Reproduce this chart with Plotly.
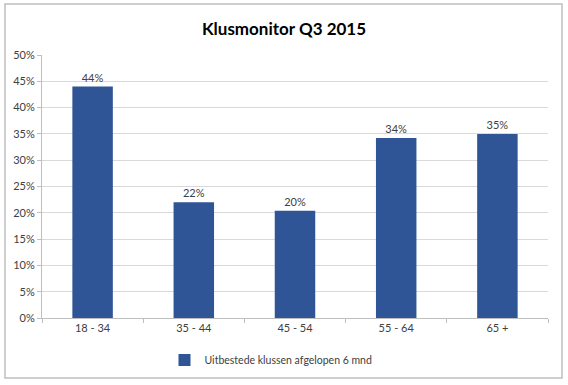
import plotly.graph_objects as go

categories = ["18 - 34", "35 - 44", "45 - 54", "55 - 64", "65 +"]
values = [0.44, 0.22, 0.204, 0.342, 0.35]
series_name = "Uitbestede klussen afgelopen 6 mnd"
y_ticks = [i / 100 for i in range(0, 55, 5)]
y_ticklabels = [f"{i}%" for i in range(0, 55, 5)]

W, H = 568, 385
L, R, T, B = 42, 20, 55, 67
pw, ph = W - L - R, H - T - B

def px_x(x):
    return (x - L) / pw

def px_y(y):
    return (H - B - y) / ph

font_main = "Lato, 'Open Sans', sans-serif"

fig = go.Figure()
fig.add_trace(go.Bar(
    x=categories, y=values, name=series_name,
    marker=dict(color="#2F5597", line=dict(width=0)),
    width=0.4,
    text=values, texttemplate="%{y:.0%}", textposition="outside",
    textfont=dict(size=11, color="#404040", family=font_main),
    cliponaxis=False,
    showlegend=True,
))

fig.update_layout(
    width=W, height=H,
    margin=dict(l=L, r=R, t=T, b=B, autoexpand=False),
    paper_bgcolor="white", plot_bgcolor="white",
    title=dict(text="<b>Klusmonitor Q3 2015</b>", x=0.5, xanchor="center",
               y=1 - 29 / H, yanchor="middle",
               font=dict(size=17, color="#000000", family=font_main)),
    font=dict(family=font_main, size=11, color="#404040"),
    showlegend=True,
    legend=dict(orientation="h", x=px_x(271), xanchor="center", y=px_y(360), yanchor="middle",
                font=dict(size=10.5, color="#404040"), itemwidth=30),
    xaxis=dict(
        showgrid=False, showline=True, linecolor="#BFBFBF", linewidth=1,
        ticks="outside", tickson="boundaries", ticklen=4, tickcolor="#BFBFBF",
        tickfont=dict(size=11, color="#404040"), automargin=False,
    ),
    yaxis=dict(
        range=[0, 0.5], tickvals=y_ticks, ticktext=y_ticklabels,
        showgrid=True, gridcolor="#D9D9D9", gridwidth=1,
        showline=True, linecolor="#BFBFBF", linewidth=1,
        ticks="outside", ticklen=4, tickcolor="#BFBFBF",
        tickfont=dict(size=11, color="#404040"), zeroline=False, automargin=False,
    ),
    shapes=[dict(
        type="rect", xref="paper", yref="paper",
        x0=px_x(5), x1=px_x(562), y0=px_y(378), y1=px_y(4),
        line=dict(color="#BFBFBF", width=1.5), fillcolor="rgba(0,0,0,0)", layer="below",
    )],
)

fig.write_html("out.html", config={"displayModeBar": False},
               post_script="document.body.style.margin='0';document.body.style.padding='0';")
